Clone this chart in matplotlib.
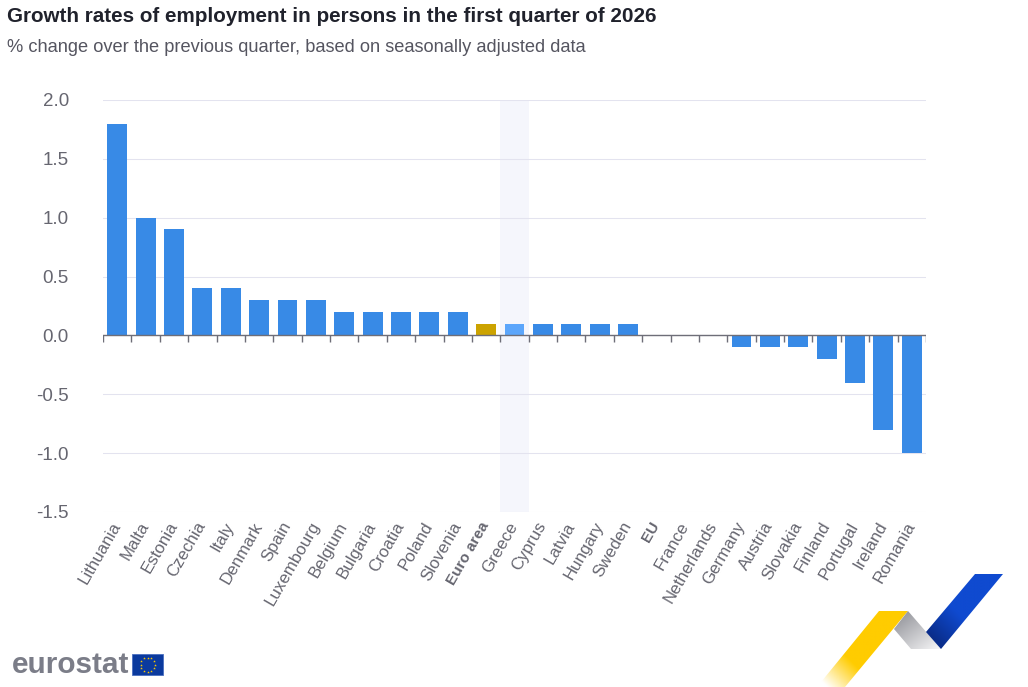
import numpy as np
import matplotlib
matplotlib.use("Agg")
import matplotlib.pyplot as plt
from matplotlib.colors import LinearSegmentedColormap
from matplotlib.patches import Polygon

countries = ["Lithuania", "Malta", "Estonia", "Czechia", "Italy", "Denmark", "Spain",
             "Luxembourg", "Belgium", "Bulgaria", "Croatia", "Poland", "Slovenia",
             "Euro area", "Greece", "Cyprus", "Latvia", "Hungary", "Sweden", "EU",
             "France", "Netherlands", "Germany", "Austria", "Slovakia", "Finland",
             "Portugal", "Ireland", "Romania"]
growth = [1.8, 1.0, 0.9, 0.4, 0.4, 0.3, 0.3, 0.3, 0.2, 0.2, 0.2, 0.2, 0.2,
          0.1, 0.1, 0.1, 0.1, 0.1, 0.1, 0.0, 0.0, 0.0,
          -0.1, -0.1, -0.1, -0.2, -0.4, -0.8, -1.0]
y_ticks = [-1.5, -1.0, -0.5, 0.0, 0.5, 1.0, 1.5, 2.0]

W, H = 1028, 687
plt.rcParams["font.family"] = ["Liberation Sans", "DejaVu Sans"]

BLUE = "#388ae6"
GOLD = "#cca300"
HOVER = "#5ca6fb"
GREY = "#666670"

fig = plt.figure(figsize=(W / 100, H / 100), dpi=100)

# overlay in pixel coordinates for the logos
bg = fig.add_axes([0, 0, 1, 1])
bg.set_xlim(0, W)
bg.set_ylim(H, 0)
bg.axis("off")

ax = fig.add_axes([103 / W, 1 - 512 / H, 823 / W, 412 / H])
ax.patch.set_alpha(0)

x = np.arange(len(countries))
colors = [BLUE] * len(countries)
colors[countries.index("Euro area")] = GOLD
colors[countries.index("Greece")] = HOVER

# hover band on Greece
ax.axvspan(countries.index("Greece") - 0.5, countries.index("Greece") + 0.5,
           color="#f5f6fc", lw=0, zorder=0)
ax.bar(x, growth, width=0.7, color=colors, zorder=3)

ax.set_xlim(-0.5, len(countries) - 0.5)
ax.set_ylim(-1.5, 2.0)
ax.set_yticks(y_ticks)
ax.set_yticklabels(["%.1f" % v for v in y_ticks], fontsize=13.5, color=GREY)
ax.tick_params(axis="y", length=0, pad=24.5)
ax.yaxis.grid(True, color="#e3e3ef", lw=0.75)
ax.set_axisbelow(True)
for s in ax.spines.values():
    s.set_visible(False)

ax.set_xticks(x)
ax.set_xticklabels(countries, rotation=60, ha="right", va="center",
                   rotation_mode="anchor", fontsize=12.2, color=GREY)
ax.tick_params(axis="x", length=0, pad=8)
for lab in ax.get_xticklabels():
    if lab.get_text() in ("Euro area", "EU"):
        lab.set_fontweight("bold")
        lab.set_fontsize(11)

# zero line and its ticks between the categories
ax.axhline(0, color="#6e6e78", lw=1.0, zorder=4)
tick_h = 7 / 412 * 3.5
ax.vlines(np.arange(len(countries) + 1) - 0.5, -tick_h, 0, color="#6e6e78", lw=1.0, zorder=4)

fig.text(7 / W, 1 - 17 / H, "Growth rates of employment in persons in the first quarter of 2026",
         fontsize=14.9, fontweight="bold", color="#20222c", va="center")
fig.text(7 / W, 1 - 47.5 / H, "% change over the previous quarter, based on seasonally adjusted data",
         fontsize=13.12, color="#555560", va="center")

# eurostat word mark and flag
bg.text(11.5, 665, "eurostat", fontsize=21.4, fontweight="bold", color="#7b7d88", va="center")
bg.add_patch(Polygon([(132, 654), (163, 654), (163, 675), (132, 675)], fc="#0b3a9e", ec="#4a6fc0", lw=0.6))
a = np.arange(12) * 2 * np.pi / 12
bg.scatter(147.5 + 7 * np.cos(a), 664.5 + 7 * np.sin(a), s=4, marker="*", color="#ffcc00", lw=0)


def ribbon(points, stops, p0, p1):
    # gradient filled polygon, colour runs along p0 -> p1 in pixels
    cmap = LinearSegmentedColormap.from_list("r", stops)
    pts = np.array(points, dtype=float)
    x0, y0 = pts.min(axis=0)
    x1, y1 = pts.max(axis=0)
    xx, yy = np.meshgrid(np.linspace(x0, x1, 200), np.linspace(y0, y1, 200))
    d = np.array(p1, dtype=float) - np.array(p0, dtype=float)
    t = ((xx - p0[0]) * d[0] + (yy - p0[1]) * d[1]) / (d @ d)
    im = bg.imshow(np.clip(t, 0, 1), extent=(x0, x1, y1, y0), cmap=cmap, vmin=0, vmax=1,
                   aspect="auto", interpolation="bilinear", zorder=2)
    clip = Polygon(points, transform=bg.transData, fc="none", ec="none")
    bg.add_patch(clip)
    im.set_clip_path(clip)


ribbon([(879, 611), (908, 611), (845, 687), (817, 687)],
       ["#ffcc00", "#ffcc00", "#ffffff"], (880, 640), (830, 690))
ribbon([(908, 611), (941, 649), (911, 649), (894, 629)],
       ["#97989e", "#f4f4f5"], (900, 615), (930, 655))
ribbon([(975, 574), (1003, 574), (941, 649), (926, 632)],
       ["#0f4ad0", "#0f4ad0", "#0a2d8a"], (985, 590), (935, 640))

bg.set_xlim(0, W)
bg.set_ylim(H, 0)

plt.savefig("out.png", dpi=100)
